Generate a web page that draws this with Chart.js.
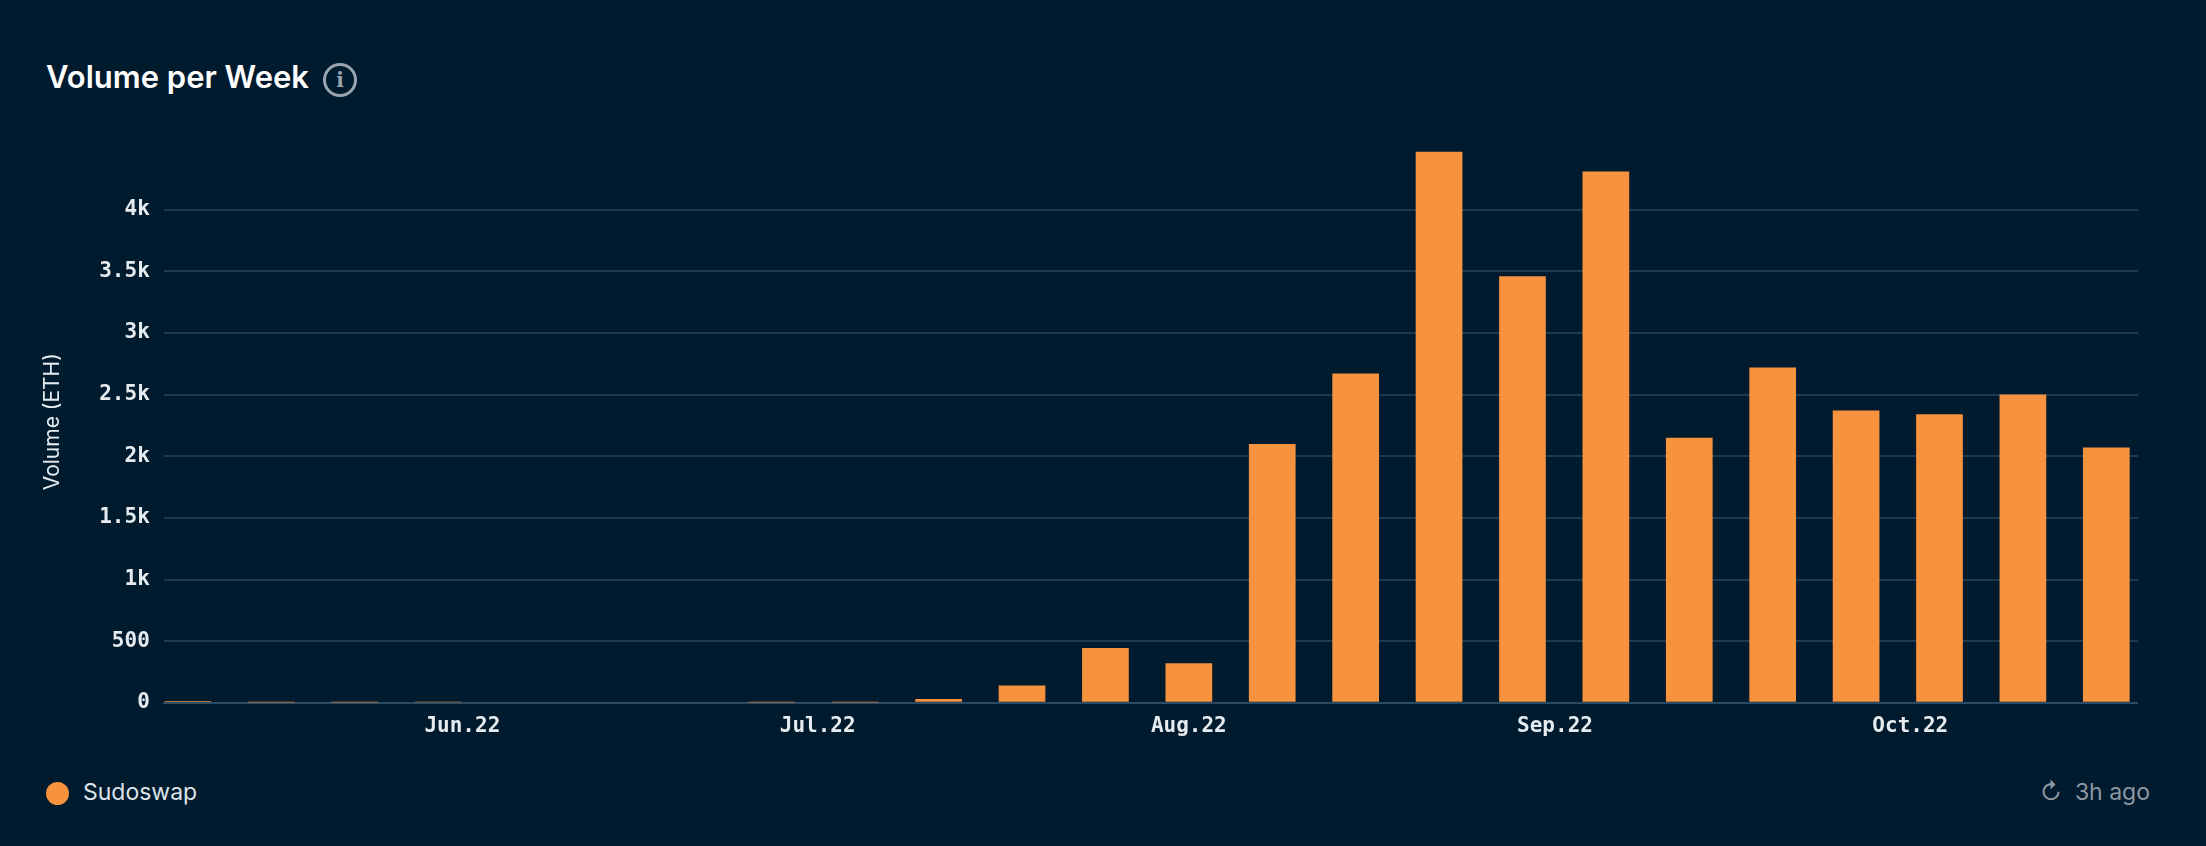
<!DOCTYPE html>
<html>
<head>
<meta charset="utf-8">
<script src="https://cdn.jsdelivr.net/npm/chart.js@4"></script>
<style>
  body { margin:0; background:#001a2e; width:2206px; height:846px; overflow:hidden; font-family:Inter, "Noto Sans", sans-serif; color:#fff; }
  #title { position:absolute; left:46px; top:58px; font-size:31px; font-weight:600; }
  #info { display:inline-block; width:28px; height:28px; border:3px solid #9aa5b0; border-radius:50%; color:#9aa5b0; font-size:20px; line-height:28px; text-align:center; vertical-align:middle; margin-left:14px; font-family:"DejaVu Serif", serif; font-weight:bold; box-sizing:content-box; }
  #wrap { position:absolute; left:36px; top:114px; width:2102px; height:628px; }
  #legend { position:absolute; left:46px; top:778px; font-size:23px; color:#dde3e8; }
  #legend span.dot { display:inline-block; width:23px; height:23px; border-radius:50%; background:#f7923f; vertical-align:middle; margin-right:14px; }
  #ago { position:absolute; right:56px; top:778px; font-size:23px; color:#8d98a3; }
</style>
</head>
<body>
<div id="title">Volume per Week<span id="info">i</span></div>
<div id="wrap"><canvas id="myChart"></canvas></div>
<div id="legend"><span class="dot"></span>Sudoswap</div>
<div id="ago">&#x21bb;&nbsp; 3h ago</div>
<script>
var volumes = [15, 3, 3, 5, 0, 0, 0, 3, 3, 30, 140, 445, 320, 2100, 2670, 4470, 3460, 4310, 2150, 2720, 2370, 2340, 2500, 2070];
var monthLabels = ["Jun.22", "Jul.22", "Aug.22", "Sep.22", "Oct.22"];
var monthPositions = [3.29, 7.55, 12.0, 16.39, 20.65];

var points = [];
for (var i = 0; i < volumes.length; i++) {
    points.push({x: i, y: volumes[i]});
}

var monoFont = {family: "'DejaVu Sans Mono', monospace", size: 21, weight: 'bold'};
var ctx = document.getElementById("myChart").getContext('2d');
var myChart = new Chart(ctx, {
    type: 'bar',
    data: {
        datasets: [{
            label: 'Sudoswap',
            data: points,
            backgroundColor: '#f7923f',
            barPercentage: 0.56,
            categoryPercentage: 1
        }]
    },
    options: {
        responsive: true,
        maintainAspectRatio: false,
        animation: false,
        plugins: { legend: { display: false }, tooltip: { enabled: false } },
        scales: {
            x: {
                type: 'linear',
                offset: false,
                min: -0.29,
                max: 23.38,
                afterBuildTicks: function(axis) {
                    axis.ticks = monthPositions.map(function(v) { return {value: v}; });
                },
                ticks: {
                    color: '#e6ebef',
                    font: monoFont,
                    maxRotation: 0,
                    autoSkip: false,
                    callback: function(v) {
                        var k = monthPositions.indexOf(v);
                        return k >= 0 ? monthLabels[k] : '';
                    }
                },
                grid: { display: false },
                border: { color: '#2b4a63', width: 2 }
            },
            y: {
                min: 0,
                max: 4560,
                afterBuildTicks: function(axis) {
                    var t = [];
                    for (var v = 0; v <= 4000; v += 500) t.push({value: v});
                    axis.ticks = t;
                },
                ticks: {
                    color: '#e6ebef',
                    font: monoFont,
                    padding: 14,
                    callback: function(v) {
                        if (v >= 1000) return (v / 1000) + 'k';
                        return v;
                    }
                },
                grid: { color: '#1c3a52', lineWidth: 2, drawTicks: false },
                border: { display: false },
                title: {
                    display: true,
                    text: 'Volume (ETH)',
                    color: '#e6ebef',
                    font: {family: "Inter, sans-serif", size: 21},
                    padding: {bottom: 20}
                }
            }
        }
    }
});
</script>
</body>
</html>
